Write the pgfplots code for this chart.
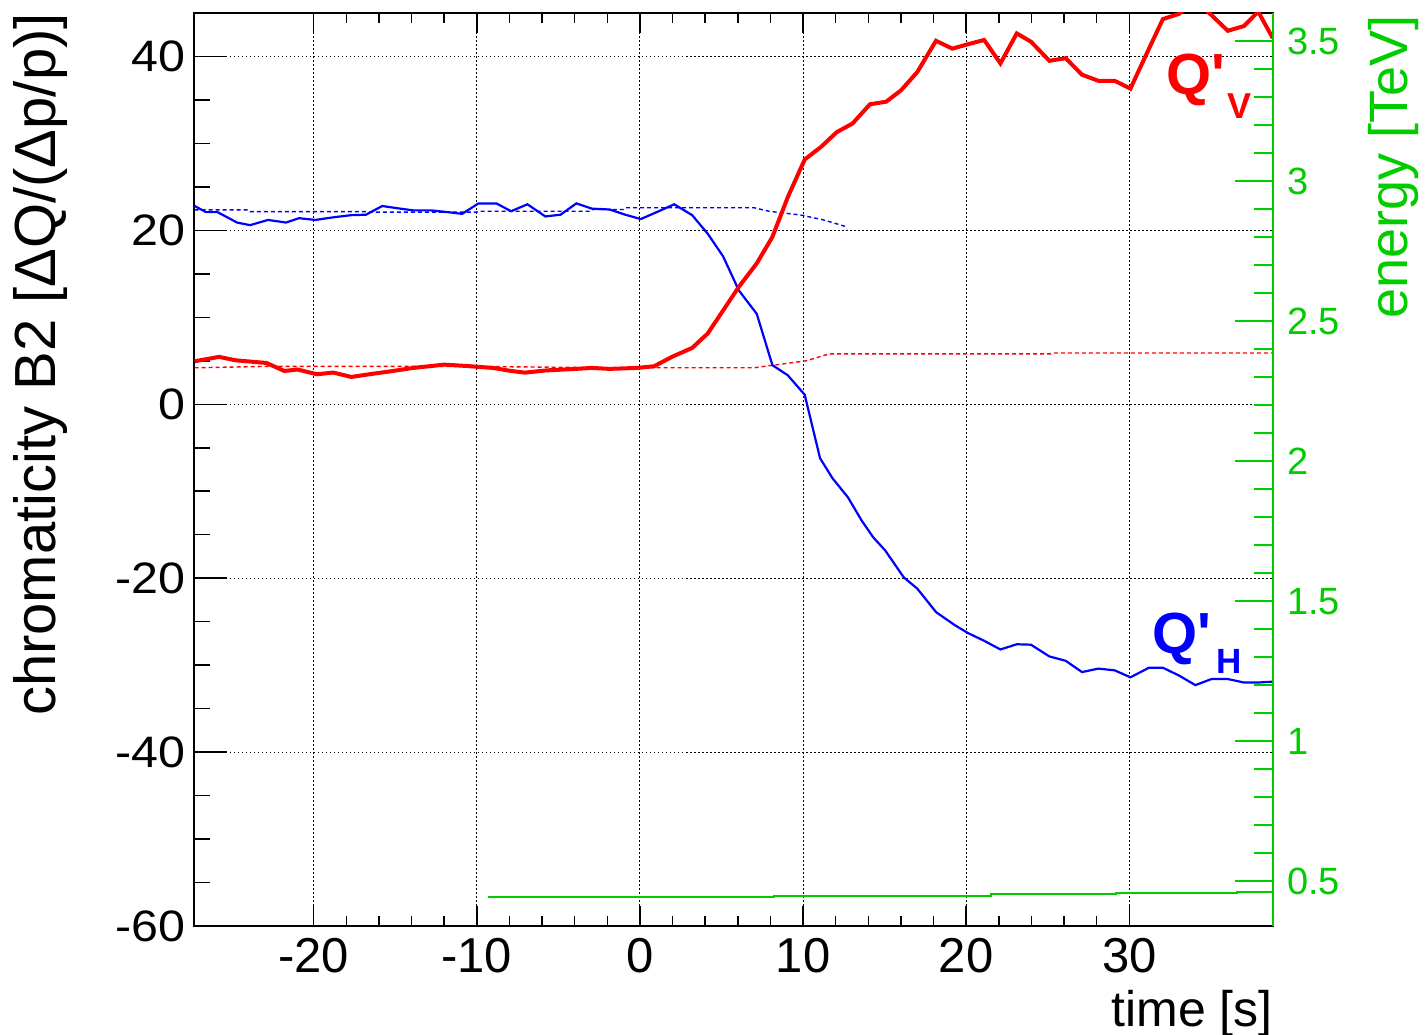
\documentclass[border=0pt]{standalone}
\usepackage{fontspec}
\setmainfont{Liberation Sans}
\newfontfamily\plainsans{Liberation Sans}
\usepackage{pgfplots}
\pgfplotsset{compat=1.18}
\usetikzlibrary{calc}
\definecolor{rootgreen}{RGB}{0,204,0}
\definecolor{rootred}{RGB}{255,0,0}
\definecolor{rootblue}{RGB}{0,0,255}

\pgfplotsset{
  frame/.style={
    width=1079pt, height=913pt, scale only axis,
    xmin=-27.34, xmax=38.81,
    /pgf/number format/assume math mode=true,
    tick align=inside,
  },
  rootgrid/.style={black, line width=1pt, dash pattern=on 1.5pt off 2.5pt},
}

\begin{document}
\begin{tikzpicture}
% x ticks and vertical grid
\begin{axis}[frame,
  ymin=-60, ymax=45, ytick=\empty,
  axis line style={draw=none},
  xtick={-20,-10,...,30}, minor x tick num=4, xtick pos=both,
  major tick length=20pt, minor tick length=10pt,
  tick style={black, line width=1.5pt},
  xmajorgrids, major grid style={rootgrid},
  xticklabel style={font=\fontsize{49}{49}\selectfont, inner sep=0pt, anchor=north, yshift=-12pt},
]
\addplot[draw=none] coordinates {(0,0)};
\end{axis}

% chromaticity axis
\begin{axis}[frame, name=main,
  ymin=-60, ymax=45, xtick=\empty,
  ytick={-60,-40,...,40}, minor y tick num=3, ytick pos=left,
  major tick length=33pt, minor tick length=16pt,
  tick style={black, line width=1.5pt},
  axis line style={black, line width=2pt},
  ymajorgrids, major grid style={rootgrid},
  yticklabel style={font=\fontsize{44}{44}\selectfont, xscale=1.1, inner sep=0pt, anchor=east, xshift=-8pt},
]
% Q'H reference (dashed)
\addplot[rootblue, line width=1.4pt, dash pattern=on 4pt off 3pt] coordinates {
(-27.3,22.35) (-24,22.35) (-23.9,22.15) (-16.8,22.15) (-16.7,22.1) (-10,22.1)
(-9.9,22.2) (-3,22.2) (-2.9,22.4) (-1,22.4) (-0.9,22.6) (7,22.6) (7.9,22.2)
(9.9,21.75) (11.25,21.2) (12.6,20.45)
};
% Q'V reference (dashed)
\addplot[rootred, line width=1.4pt, dash pattern=on 4pt off 3pt] coordinates {
(-27.3,4.2) (-23,4.35) (-10,4.35) (-2,4.2) (7,4.2) (8.2,4.5) (10.2,5.0)
(11.6,5.8) (25.2,5.8) (25.3,5.9) (38.8,5.9)
};
% Q'H measured
\addplot[rootblue, line width=2.2pt] coordinates {
(-27.3,22.8) (-26.6,22.1) (-25.9,22.1) (-24.7,20.9) (-23.9,20.6) (-22.8,21.2)
(-21.7,20.9) (-20.9,21.4) (-19.9,21.2) (-18.8,21.5) (-17.7,21.75) (-16.8,21.8)
(-15.8,22.8) (-14.7,22.5) (-13.9,22.3) (-12.8,22.3) (-11.8,22.1) (-10.9,21.9)
(-9.9,23.1) (-8.8,23.1) (-7.9,22.2) (-6.9,23.0) (-5.8,21.6) (-4.87,21.8)
(-3.9,23.1) (-2.95,22.5) (-1.86,22.4) (-0.9,21.8) (0.05,21.3) (1.15,22.2)
(2.1,23.0) (3.2,21.75) (4.16,19.6) (5.1,17.0) (6.06,13.1) (7.16,10.4)
(8.12,4.5) (9.06,3.34) (10.1,1.1) (11.04,-6.2) (11.8,-8.5) (12.75,-10.7)
(13.6,-13.4) (14.3,-15.3) (15.03,-16.8) (16.17,-19.9) (17.0,-21.2) (18.15,-23.9)
(19.3,-25.4) (20.1,-26.3) (21.1,-27.2) (22.1,-28.2) (23.1,-27.6) (23.97,-27.65)
(25.1,-29.0) (26.1,-29.5) (27.1,-30.8) (28.1,-30.4) (29.1,-30.6) (30.07,-31.4)
(31.2,-30.3) (32.06,-30.3) (33.05,-31.2) (34.05,-32.3) (35.04,-31.6) (36.04,-31.6)
(37.03,-32.0) (37.9,-32.0) (38.8,-31.9)
};
% Q'V measured
\addplot[rootred, line width=4pt] coordinates {
(-27.3,4.95) (-25.8,5.45) (-24.8,5.06) (-22.9,4.75) (-21.8,3.83) (-21.0,4.0)
(-19.8,3.45) (-18.8,3.65) (-17.7,3.14) (-16.6,3.45) (-15.25,3.8) (-13.9,4.18)
(-12.0,4.56) (-10.6,4.4) (-9.0,4.18) (-7.9,3.83) (-7.05,3.64) (-5.7,3.9)
(-4.3,4.03) (-2.95,4.18) (-1.86,4.07) (-0.2,4.18) (0.87,4.37) (1.96,5.45)
(3.2,6.48) (4.15,8.13) (4.96,10.4) (6.06,13.5) (7.16,16.2) (8.12,19.25)
(9.07,23.85) (10.1,28.15) (11.1,29.6) (12.07,31.3) (13.04,32.3) (14.1,34.5)
(15.1,34.8) (16.0,36.1) (17.0,38.2) (18.15,41.8) (19.15,40.9) (20.1,41.4)
(21.1,41.9) (22.1,39.2) (23.1,42.65) (23.97,41.7) (25.1,39.5) (26.1,39.8)
(27.1,37.9) (28.1,37.2) (29.1,37.2) (30.07,36.3) (31.07,40.35) (32.06,44.3)
(33.05,44.9) (34.0,46.5) (34.9,45.0) (36.04,42.95) (37.03,43.5) (37.9,45.15)
(38.8,42.1)
};
\coordinate (qv) at (axis cs:32.27,35.67);
\coordinate (qvs) at (axis cs:36.0,32.9);
\coordinate (qh) at (axis cs:31.41,-28.65);
\coordinate (qhs) at (axis cs:35.33,-30.95);
\end{axis}

% energy axis
\begin{axis}[frame,
  ymin=0.34, ymax=3.6,
  axis x line=none, axis y line*=right,
  tick align=inside,
  ytick={0.5,1,1.5,2,2.5,3,3.5}, minor y tick num=4,
  major tick length=38pt, minor tick length=19pt,
  y axis line style={rootgreen, line width=2pt},
  ytick style={rootgreen, line width=1.5pt},
  yticklabel style={rootgreen, font=\fontsize{38}{38}\selectfont, inner sep=0pt, anchor=west, xshift=14pt},
]
\addplot[rootgreen, line width=2pt] coordinates {
(-9.3,0.443) (8.2,0.443) (8.2,0.4475) (21.55,0.4475) (21.55,0.4536)
(29.2,0.4536) (29.2,0.458) (36.6,0.458) (36.6,0.463) (38.8,0.463)
};
\end{axis}

% titles
\node[rotate=90, anchor=base east, inner sep=0pt, font=\fontsize{58}{58}\selectfont]
  at ($(main.north west)+(-138pt,0pt)$) {chromaticity B2 [ΔQ/(Δp/p)]};
\node[rotate=90, anchor=base east, inner sep=0pt, text=rootgreen, font=\fontsize{54}{54}\selectfont]
  at ($(main.north east)+(134pt,-2pt)$) {energy [TeV]};
\node[anchor=base east, inner sep=0pt, font=\fontsize{50}{50}\selectfont]
  at ($(main.south east)+(0pt,-101pt)$) {time [s]};

\node[anchor=base west, inner sep=0pt, text=rootred, font=\plainsans\bfseries\fontsize{58}{58}\selectfont] at (qv) {Q'};
\node[anchor=base west, inner sep=0pt, text=rootred, font=\plainsans\bfseries\fontsize{36}{36}\selectfont] at (qvs) {V};
\node[anchor=base west, inner sep=0pt, text=rootblue, font=\plainsans\bfseries\fontsize{58}{58}\selectfont] at (qh) {Q'};
\node[anchor=base west, inner sep=0pt, text=rootblue, font=\plainsans\bfseries\fontsize{35}{35}\selectfont] at (qhs) {H};

\pgfresetboundingbox
\useasboundingbox ($(main.south west)+(-194pt,-109pt)$) rectangle ($(main.north east)+(154pt,13pt)$);
\end{tikzpicture}
\end{document}
